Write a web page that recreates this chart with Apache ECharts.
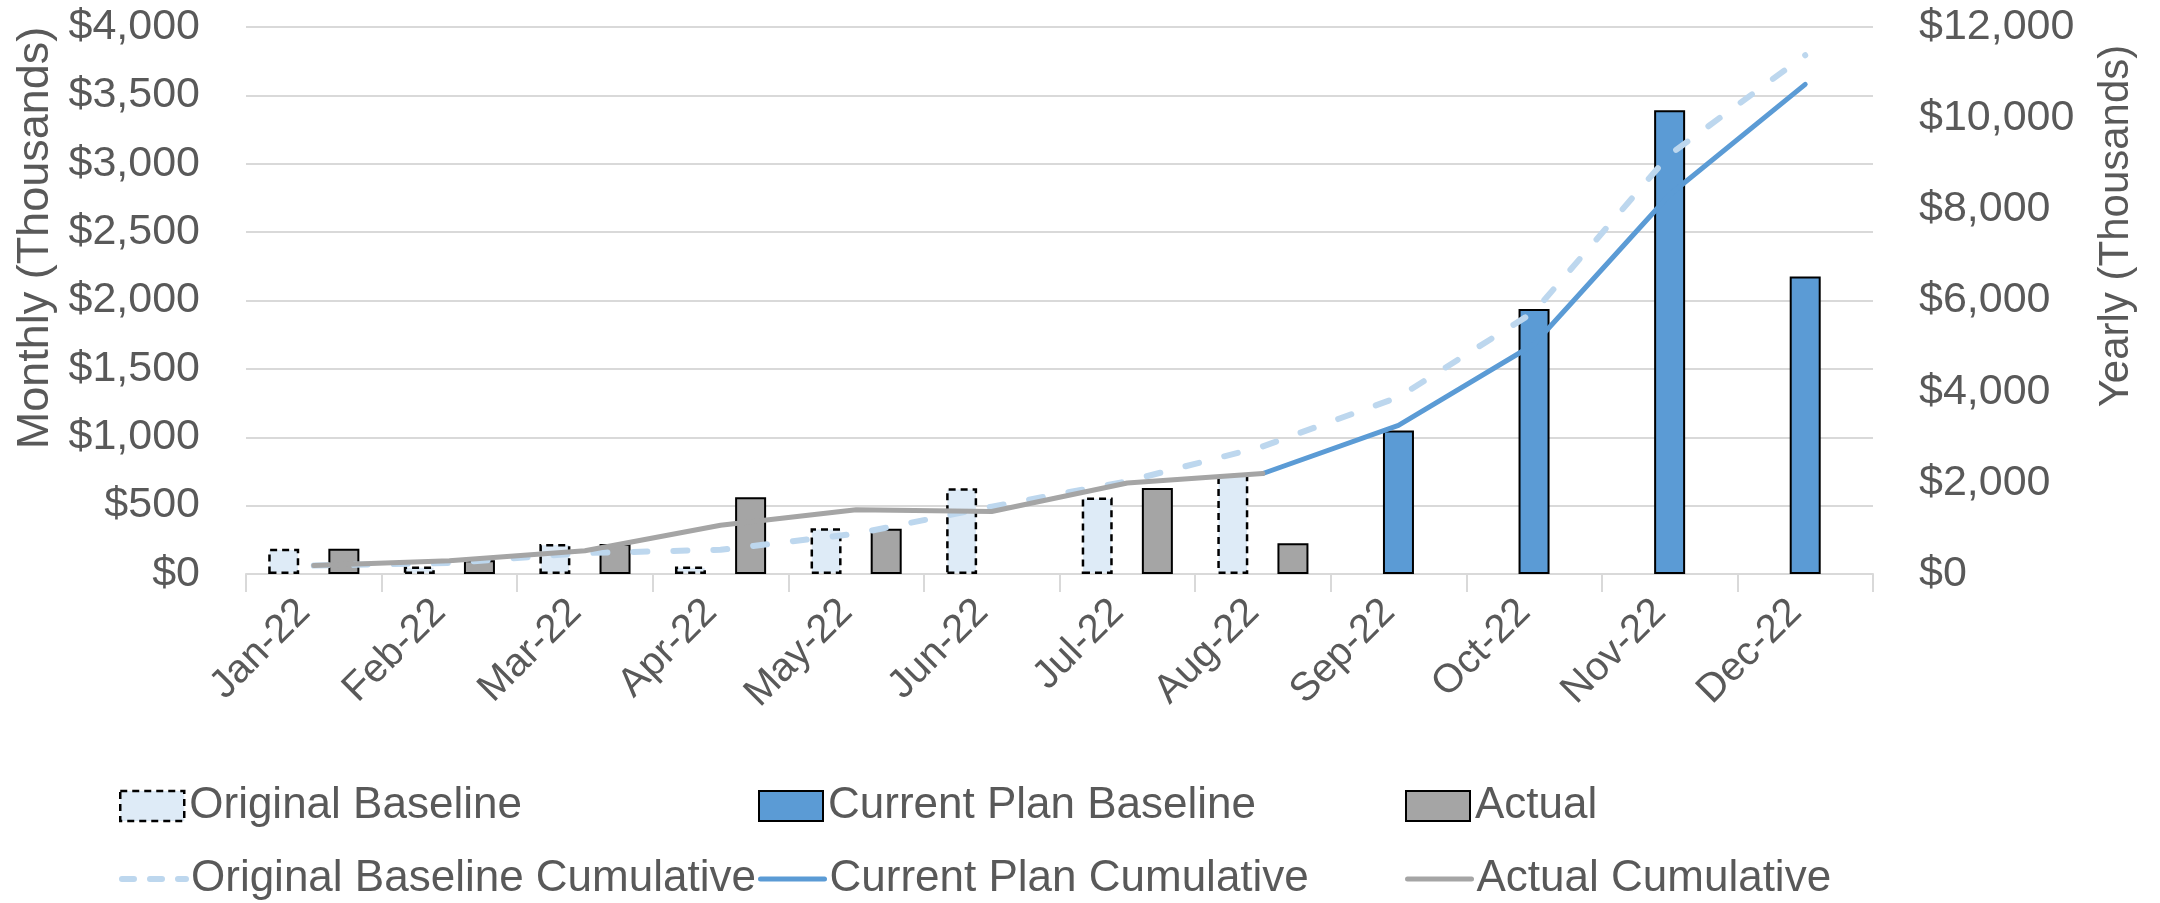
<!DOCTYPE html>
<html lang="en">
<head>
    <meta charset="utf-8">
    <title>Monthly / Yearly spend</title>
    <script src="https://cdn.jsdelivr.net/npm/echarts@6/dist/echarts.min.js"></script>
    <style>
        html, body { margin: 0; padding: 0; background: #fff; }
        #chart { width: 2160px; height: 903px; }
    </style>
</head>
<body>
    <div id="chart"></div>
    <script>
        // values, thousands of $
        var months = ['Jan-22', 'Feb-22', 'Mar-22', 'Apr-22', 'May-22', 'Jun-22',
                      'Jul-22', 'Aug-22', 'Sep-22', 'Oct-22', 'Nov-22', 'Dec-22'];
        var originalBaseline = [184, 55, 220, 54, 334, 627, 560, 730, null, null, null, null];
        var currentPlanBaseline = [null, null, null, null, null, null, null, null, 1050, 1938, 3392, 2176];
        var actual = [184, 100, 220, 561, 330, -20, 629, 224, null, null, null, null];
        var originalCumulative = [184, 240, 460, 530, 885, 1478, 2035, 2800, 3880, 5750, 9200, 11380];
        var currentCumulative = [null, null, null, null, null, null, null, 2205, 3260, 5040, 8320, 10740];
        var actualCumulative = [184, 290, 510, 1070, 1410, 1370, 1995, 2205, null, null, null, null];
        var monthlyTicks = [0, 500, 1000, 1500, 2000, 2500, 3000, 3500, 4000];
        var yearlyTicks = [0, 2000, 4000, 6000, 8000, 10000, 12000];

        var font = 'Liberation Sans';
        var grey = '#595959';
        var gridColor = '#d9d9d9';

        var origStyle = { color: '#deebf7', borderColor: '#000', borderWidth: 2.5, borderType: [7, 5] };
        var planStyle = { color: '#5b9bd5', borderColor: '#000', borderWidth: 2 };
        var actualStyle = { color: '#a5a5a5', borderColor: '#000', borderWidth: 2 };
        var origLine = { color: '#bdd7ee', width: 6, type: [14, 26], cap: 'round', join: 'round' };
        var planLine = { color: '#5b9bd5', width: 5, type: 'solid', cap: 'round', join: 'round' };
        var actualLine = { color: '#a5a5a5', width: 5, type: 'solid', cap: 'round', join: 'round' };

        function money(v) {
            return '$' + v.toLocaleString('en-US');
        }

        function barLegend(name, left, style) {
            return {
                data: [{ name: name, icon: 'rect' }],
                left: left,
                top: 784,
                padding: 0,
                itemWidth: 64,
                itemHeight: 30,
                itemStyle: style,
                textStyle: { fontFamily: font, fontSize: 44, color: grey }
            };
        }

        function lineLegend(name, left, style) {
            return {
                data: [name],
                left: left,
                top: 857,
                padding: 0,
                itemWidth: 64,
                itemHeight: 14,
                itemStyle: { opacity: 0 },
                lineStyle: style,
                textStyle: { fontFamily: font, fontSize: 44, color: grey }
            };
        }

        var myChart = echarts.init(document.getElementById('chart'));
        var option = {
            backgroundColor: '#fff',
            animation: false,
            grid: { left: 246, right: 287, top: 27, bottom: 329 },
            legend: [
                barLegend('Original Baseline', 119, origStyle),
                barLegend('Current Plan Baseline', 758, planStyle),
                barLegend('Actual', 1405, actualStyle),
                lineLegend('Original Baseline Cumulative', 119, { color: '#bdd7ee', width: 6, type: [12, 16], cap: 'round' }),
                lineLegend('Current Plan Cumulative', 758, planLine),
                lineLegend('Actual Cumulative', 1405, actualLine)
            ],
            graphic: [
                {
                    type: 'text', x: 36, y: 238, rotation: Math.PI / 2,
                    style: { text: 'Monthly (Thousands)', fontFamily: font, fontSize: 45, fill: grey,
                             align: 'center', verticalAlign: 'middle' }
                },
                {
                    type: 'text', x: 2116, y: 226, rotation: Math.PI / 2,
                    style: { text: 'Yearly (Thousands)', fontFamily: font, fontSize: 42, fill: grey,
                             align: 'center', verticalAlign: 'middle' }
                }
            ],
            xAxis: {
                type: 'category',
                data: months,
                axisLine: { lineStyle: { color: gridColor, width: 2 } },
                axisTick: { show: true, length: 18, lineStyle: { color: gridColor, width: 2 } },
                axisLabel: { rotate: 45, margin: 22, padding: [0, 14, 0, 0],
                             fontFamily: font, fontSize: 40, color: grey }
            },
            yAxis: [{
                type: 'value',
                min: monthlyTicks[0],
                max: monthlyTicks[monthlyTicks.length - 1],
                interval: monthlyTicks[1] - monthlyTicks[0],
                axisLine: { show: false },
                axisTick: { show: false },
                splitLine: { lineStyle: { color: gridColor, width: 2 } },
                axisLabel: { margin: 46, fontFamily: font, fontSize: 43, color: grey, formatter: money }
            }, {
                type: 'value',
                min: yearlyTicks[0],
                max: yearlyTicks[yearlyTicks.length - 1],
                interval: yearlyTicks[1] - yearlyTicks[0],
                axisLine: { show: false },
                axisTick: { show: false },
                splitLine: { show: false },
                axisLabel: { margin: 46, fontFamily: font, fontSize: 43, color: grey, formatter: money }
            }],
            series: [
                {
                    name: 'Original Baseline',
                    type: 'bar',
                    barWidth: 31,
                    barGap: '-3%',
                    itemStyle: origStyle,
                    data: originalBaseline
                },
                {
                    name: 'Current Plan Baseline',
                    type: 'bar',
                    barWidth: 31,
                    barGap: '-3%',
                    itemStyle: planStyle,
                    data: currentPlanBaseline
                },
                {
                    name: 'Actual',
                    type: 'bar',
                    barWidth: 31,
                    barGap: '-3%',
                    itemStyle: actualStyle,
                    data: actual
                },
                {
                    name: 'Original Baseline Cumulative',
                    type: 'line',
                    yAxisIndex: 1,
                    symbol: 'none',
                    itemStyle: { color: '#bdd7ee' },
                    lineStyle: origLine,
                    data: originalCumulative
                },
                {
                    name: 'Current Plan Cumulative',
                    type: 'line',
                    yAxisIndex: 1,
                    symbol: 'none',
                    itemStyle: { color: '#5b9bd5' },
                    lineStyle: planLine,
                    data: currentCumulative
                },
                {
                    name: 'Actual Cumulative',
                    type: 'line',
                    yAxisIndex: 1,
                    symbol: 'none',
                    itemStyle: { color: '#a5a5a5' },
                    lineStyle: actualLine,
                    data: actualCumulative
                }
            ]
        };
        myChart.setOption(option);
    </script>
</body>
</html>
